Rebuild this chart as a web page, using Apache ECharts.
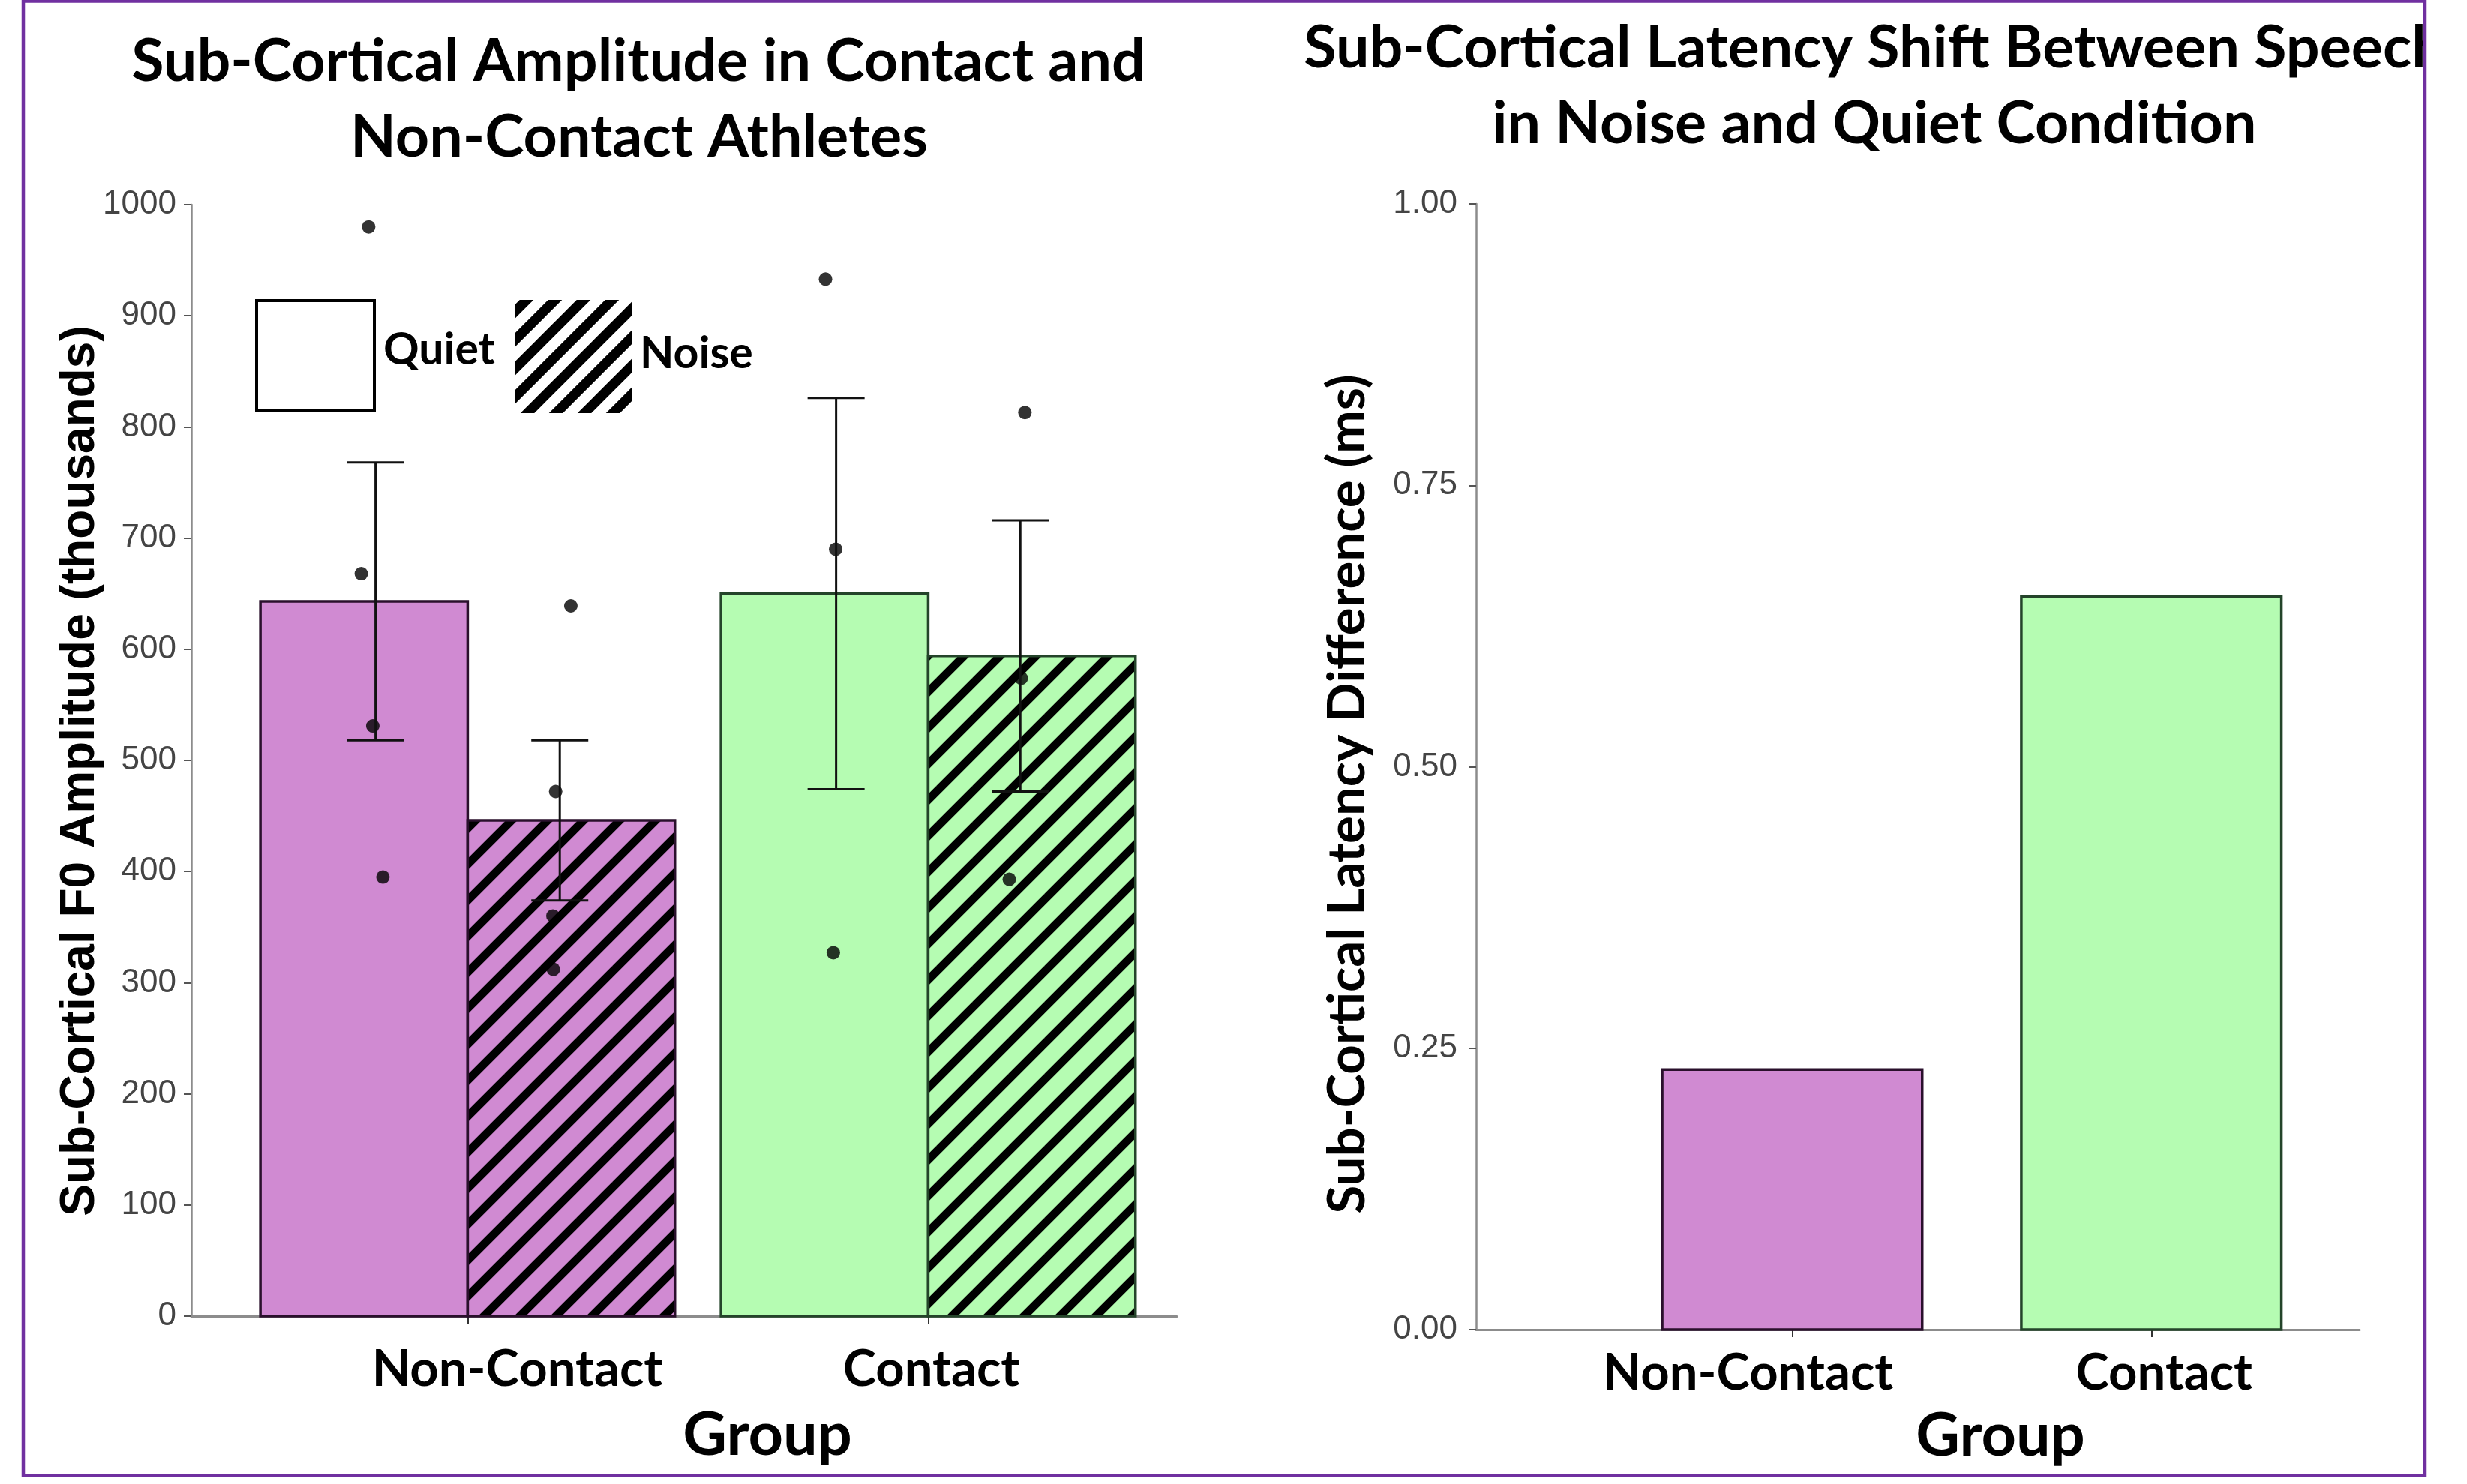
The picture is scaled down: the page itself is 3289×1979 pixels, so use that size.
<!DOCTYPE html>
<html><head><meta charset="utf-8">
<script src="https://cdn.jsdelivr.net/npm/echarts@6/dist/echarts.min.js"></script>
<style>html,body{margin:0;padding:0;background:#fff}#c{width:3289px;height:1979px}</style>
</head><body><div id="c"></div>
<script>
// ---------------- data ----------------
const groups = ['Non-Contact', 'Contact'];
const quietMean = [643, 650];
const noiseMean = [446, 594];
const quietSE = [125, 176];
const noiseSE = [72, 122];
const quietPoints = [[980, 668, 531, 395], [933, 690, 327]];
const noisePoints = [[639, 472, 360, 312], [813, 574, 393]];
const quietJitter = [[-0.015, -0.031, -0.006, 0.016], [-0.023, -0.001, -0.006]];
const noiseJitter = [[0.024, -0.009, -0.015, -0.014], [0.010, 0.002, -0.024]];
const latencyDiff = [0.231, 0.651];
const ampAxis = [0, 1000, 100];      // min, max, step
const latAxis = [0, 1, 0.25];        // min, max, step
const legendNames = ['Quiet', 'Noise'];
const leftTitle = ['Sub-Cortical Amplitude in Contact and', 'Non-Contact Athletes'];
const rightTitle = ['Sub-Cortical Latency Shift Between Speech', 'in Noise and Quiet Condition'];
const leftYName = 'Sub-Cortical F0 Amplitude (thousands)';
const rightYName = 'Sub-Cortical Latency Difference (ms)';
const xName = 'Group';

// ---------------- style ----------------
const fills = ['#D08AD2', '#B5FCB2'];
const strokes = ['#2a102c', '#24442a'];
const FONT = 'Lato';

function stripeTile(bg, period, thick) {
  const c = document.createElement('canvas');
  c.width = period; c.height = period;
  const g = c.getContext('2d');
  if (bg) { g.fillStyle = bg; g.fillRect(0, 0, period, period); }
  g.strokeStyle = '#000'; g.lineWidth = thick; g.lineCap = 'butt';
  for (const off of [-period, 0, period]) {
    g.beginPath(); g.moveTo(off - period, 2 * period); g.lineTo(off + 2 * period, -period); g.stroke();
  }
  return c;
}
const hatchFills = fills.map(f => ({ image: stripeTile(f, 48, 11), repeat: 'repeat' }));
const legendHatch = { image: stripeTile('#fff', 38, 13), repeat: 'repeat' };

const chart = echarts.init(document.getElementById('c'), null, { renderer: 'canvas' });

function barSeries(name, idx, means, offset, width, fillArr) {
  return {
    type: 'custom', name, xAxisIndex: idx, yAxisIndex: idx, z: 2,
    data: means.map((v, i) => [i + 1, v]),
    encode: { x: 0, y: 1 },
    renderItem(params, api) {
      const c = api.value(0), v = api.value(1);
      const p0 = api.coord([c + offset - width / 2, v]);
      const p1 = api.coord([c + offset + width / 2, 0]);
      return {
        type: 'rect',
        shape: { x: p0[0], y: p0[1], width: p1[0] - p0[0], height: p1[1] - p0[1] },
        style: { fill: fillArr[params.dataIndex], stroke: strokes[params.dataIndex], lineWidth: 3.5 }
      };
    }
  };
}
function errSeries(name, means, se, offset) {
  return {
    type: 'custom', name, xAxisIndex: 0, yAxisIndex: 0, z: 4,
    data: means.map((m, i) => [i + 1, m, se[i]]),
    encode: { x: 0, y: 1 },
    renderItem(params, api) {
      const x = api.value(0) + offset, m = api.value(1), s = api.value(2);
      const t = api.coord([x, m + s]), b = api.coord([x, m - s]);
      const hw = 38;
      const st = { stroke: '#111', lineWidth: 3 };
      return {
        type: 'group', children: [
          { type: 'line', shape: { x1: t[0], y1: t[1], x2: b[0], y2: b[1] }, style: st },
          { type: 'line', shape: { x1: t[0] - hw, y1: t[1], x2: t[0] + hw, y2: t[1] }, style: st },
          { type: 'line', shape: { x1: b[0] - hw, y1: b[1], x2: b[0] + hw, y2: b[1] }, style: st }
        ]
      };
    }
  };
}
function pointData(pts, jit, offset) {
  const out = [];
  pts.forEach((arr, i) => arr.forEach((v, k) => out.push([i + 1 + offset + jit[i][k], v])));
  return out;
}

const axisLineStyle = { color: '#8c8c8c', width: 3 };
const option = {
  animation: false,
  backgroundColor: '#fff',
  grid: [
    { left: 255, top: 273, right: 3289 - 1569, bottom: 1979 - 1755, containLabel: false, outerBoundsMode: 'none' },
    { left: 1968, top: 272, right: 3289 - 3146, bottom: 1979 - 1773, containLabel: false, outerBoundsMode: 'none' }
  ],
  xAxis: [
    { gridIndex: 0, type: 'value', min: 0.4, max: 2.54, axisLine: { onZero: false, lineStyle: axisLineStyle },
      axisTick: { show: true, customValues: [1, 2], length: 10, lineStyle: { color: '#333', width: 2 } },
      axisLabel: { show: false }, splitLine: { show: false } },
    { gridIndex: 1, type: 'value', min: 0.12, max: 2.58, axisLine: { onZero: false, lineStyle: axisLineStyle },
      axisTick: { show: true, customValues: [1, 2], length: 10, lineStyle: { color: '#333', width: 2 } },
      axisLabel: { show: false }, splitLine: { show: false } }
  ],
  yAxis: [
    { gridIndex: 0, type: 'value', min: ampAxis[0], max: ampAxis[1], interval: ampAxis[2],
      axisLine: { show: true, onZero: false, lineStyle: { color: '#8c8c8c', width: 2.5 } },
      axisTick: { show: true, length: 10, lineStyle: { color: '#555', width: 2 } },
      axisLabel: { fontFamily: 'Liberation Sans', fontSize: 44, color: '#444', margin: 20,
        formatter: v => String(v) },
      splitLine: { show: false } },
    { gridIndex: 1, type: 'value', min: latAxis[0], max: latAxis[1], interval: latAxis[2],
      axisLine: { show: true, onZero: false, lineStyle: { color: '#8c8c8c', width: 2.5 } },
      axisTick: { show: true, length: 10, lineStyle: { color: '#555', width: 2 } },
      axisLabel: { fontFamily: 'Liberation Sans', fontSize: 44, color: '#444', margin: 25,
        formatter: v => v.toFixed(2) },
      splitLine: { show: false } }
  ],
  series: [
    barSeries('Quiet', 0, quietMean, -0.225, 0.45, fills),
    barSeries('Noise', 0, noiseMean, 0.225, 0.45, hatchFills),
    { type: 'scatter', name: 'Quiet points', xAxisIndex: 0, yAxisIndex: 0, z: 3, symbolSize: 18,
      itemStyle: { color: '#000' }, data: pointData(quietPoints, quietJitter, -0.2) },
    { type: 'scatter', name: 'Noise points', xAxisIndex: 0, yAxisIndex: 0, z: 3, symbolSize: 18,
      itemStyle: { color: '#000' }, data: pointData(noisePoints, noiseJitter, 0.2) },
    errSeries('Quiet SE', quietMean, quietSE, -0.2),
    errSeries('Noise SE', noiseMean, noiseSE, 0.2),
    barSeries('Latency', 1, latencyDiff, 0, 0.724, fills)
  ]
};
chart.setOption(option);

// ---------------- texts & decorations ----------------
function txt(text, x, y, size, opts) {
  opts = opts || {};
  return {
    type: 'text', x, y, rotation: opts.rot || 0, scaleX: opts.sx || 1, z: 10,
    style: {
      text, font: (opts.weight || 'bold') + ' ' + size + 'px ' + (opts.family || FONT),
      fill: opts.fill || '#000', align: opts.align || 'center', textAlign: opts.align || 'center',
      verticalAlign: 'middle', textVerticalAlign: 'middle'
    }
  };
}
const g = [];
// frame (text beyond the right edge is hidden, as in the reference)
g.push({ type: 'rect', z: 15, shape: { x: 3235, y: 0, width: 60, height: 1979 },
  style: { fill: '#fff' } });
g.push({ type: 'rect', z: 20, shape: { x: 31, y: 1.5, width: 3202, height: 1966 },
  style: { fill: null, stroke: '#7030A0', lineWidth: 4.5 } });
// titles
g.push(txt(leftTitle[0], 851, 83, 79));
g.push(txt(leftTitle[1], 852, 184, 79));
g.push(txt(rightTitle[0], 2499, 65, 79));
g.push(txt(rightTitle[1], 2499, 166, 79));
// legend
g.push({ type: 'rect', z: 10, shape: { x: 342, y: 401, width: 157, height: 147 },
  style: { fill: '#fff', stroke: '#000', lineWidth: 4 } });
g.push({ type: 'rect', z: 10, shape: { x: 686, y: 400, width: 156, height: 151 },
  style: { fill: legendHatch } });
g.push(txt(legendNames[0], 511, 467, 59, { align: 'left' }));
g.push(txt(legendNames[1], 853, 472, 59, { align: 'left' }));
// y axis names
g.push(txt(leftYName, 107, 1028, 64, { rot: Math.PI / 2, family: 'Liberation Sans' }));
g.push(txt(rightYName, 1797, 1059, 69, { rot: Math.PI / 2 }));
// x axis names
g.push(txt(xName, 1023, 1914, 81));
g.push(txt(xName, 2667, 1915, 81));
// category labels, placed from the axis scale
const labelShift = [[66, 4], [-59, 17]];
[0, 1].forEach(gi => {
  groups.forEach((name, i) => {
    const p = chart.convertToPixel({ gridIndex: gi }, [i + 1, 0]);
    g.push(txt(name, p[0] + labelShift[gi][i], gi === 0 ? 1826 : 1831, 67));
  });
});
chart.setOption({ graphic: { elements: g } });
</script></body></html>
